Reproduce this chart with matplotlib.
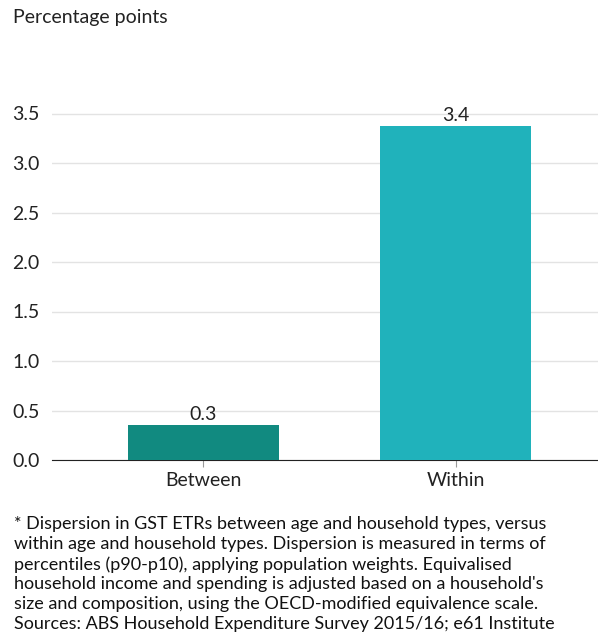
import matplotlib.pyplot as plt

plt.rcParams['font.family'] = ['Lato', 'DejaVu Sans']

categories = ["Between", "Within"]
values = [0.35, 3.37]
colors = ["#118a80", "#20b2bb"]
yticks = [0.0, 0.5, 1.0, 1.5, 2.0, 2.5, 3.0, 3.5]

note = ("* Dispersion in GST ETRs between age and household types, versus\n"
        "within age and household types. Dispersion is measured in terms of\n"
        "percentiles (p90-p10), applying population weights. Equivalised\n"
        "household income and spending is adjusted based on a household's\n"
        "size and composition, using the OECD-modified equivalence scale.\n"
        "Sources: ABS Household Expenditure Survey 2015/16; e61 Institute")

fig = plt.figure(figsize=(5.98, 6.41), dpi=100)
ax = fig.add_axes([52 / 598, 1 - 460 / 641, 546 / 598, 396 / 641])

x = range(len(categories))
bars = ax.bar(x, values, width=0.6, color=colors, zorder=3)
for b, v in zip(bars, values):
    ax.text(b.get_x() + b.get_width() / 2, v + 0.02, f"{v:.1f}",
            ha="center", va="bottom", fontsize=14, color="#222222")

ax.set_ylim(0, 4.0)
ax.set_xlim(-0.6, 1.564)
ax.set_yticks(yticks)
ax.set_yticklabels([f"{t:.1f}" for t in yticks])
ax.set_xticks(list(x))
ax.set_xticklabels(categories)
ax.grid(axis="y", color="#e3e3e3", linewidth=1, zorder=0)
for s in ["top", "right", "left"]:
    ax.spines[s].set_visible(False)
ax.spines["bottom"].set_color("#222222")
ax.tick_params(axis="x", length=5, color="#999999", labelsize=14, pad=4,
               labelcolor="#222222")
# left-aligned y tick labels, 40 px in from the axes edge
for lab in ax.get_yticklabels():
    lab.set_horizontalalignment("left")
ax.tick_params(axis="y", length=0, labelsize=14, pad=40 * 72 / 100,
               labelcolor="#222222")

fig.text(13 / 598, 1 - 18 / 641, "Percentage points", fontsize=14,
         color="#222222", va="center", ha="left")
fig.text(14 / 598, 1 - 516 / 641, note, fontsize=13, color="#111111",
         va="top", ha="left", linespacing=1.3)

fig.savefig("out.png", dpi=100)
